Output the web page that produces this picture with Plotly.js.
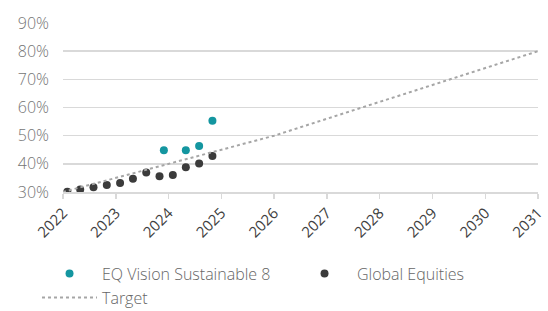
<!DOCTYPE html>
<html>
<head>
<meta charset="utf-8">
<script src="https://cdn.plot.ly/plotly-3.0.1.min.js"></script>
<style>html,body{margin:0;padding:0;background:#fff}#chart{width:548px;height:311px}</style>
</head>
<body>
<div id="chart"></div>
<script>
// Data
var eqDates = ["2023-11-30", "2024-04-30", "2024-07-31", "2024-10-31"];
var eqValues = [0.448, 0.448, 0.463, 0.553];

var globalDates = ["2022-01-31", "2022-04-30", "2022-07-31", "2022-10-31",
                   "2023-01-31", "2023-04-30", "2023-07-31", "2023-10-31",
                   "2024-01-31", "2024-04-30", "2024-07-31", "2024-10-31"];
var globalValues = [0.301, 0.309, 0.317, 0.325, 0.332, 0.347, 0.369, 0.356, 0.360, 0.388, 0.401, 0.428];

var targetDates = ["2022-01-01", "2023-01-01", "2024-01-01", "2025-01-01", "2026-01-01",
                   "2027-01-01", "2028-01-01", "2029-01-01", "2030-01-01", "2031-01-01"];
var targetValues = [0.30, 0.35, 0.40, 0.45, 0.50, 0.56, 0.62, 0.68, 0.74, 0.80];

var yearTicks = ["2022-01-01","2023-01-01","2024-01-01","2025-01-01","2026-01-01",
                 "2027-01-01","2028-01-01","2029-01-01","2030-01-01","2031-01-01"];
var yearLabels = ["2022","2023","2024","2025","2026","2027","2028","2029","2030","2031"];

var FONT = "'Open Sans', Lato, sans-serif";

var traces = [
  {x: eqDates, y: eqValues, name: "EQ Vision Sustainable 8", type: "scatter", mode: "markers",
   marker: {color: "#1496a0", size: 8}},
  {x: globalDates, y: globalValues, name: "Global Equities", type: "scatter", mode: "markers",
   marker: {color: "#3b3b3b", size: 8}},
  {x: targetDates, y: targetValues, name: "Target", type: "scatter", mode: "lines",
   line: {color: "#a6a6a6", width: 2, dash: "dot"}}
];

var layout = {
  width: 548, height: 311,
  margin: {l: 63, r: 9.5, t: 23.3, b: 118.7, autoexpand: false},
  paper_bgcolor: "#fff", plot_bgcolor: "#fff",
  font: {family: FONT, color: "#666666", size: 16, weight: 300},
  showlegend: true,
  xaxis: {
    type: "date",
    range: ["2022-01-01", "2031-01-01"],
    tickvals: yearTicks, ticktext: yearLabels,
    tickangle: -45,
    automargin: false,
    showgrid: false, zeroline: false,
    showline: true, linecolor: "#d9d9d9", linewidth: 1.5,
    ticks: "outside", ticklen: 5, tickcolor: "#d9d9d9", tickwidth: 1.5,
    tickfont: {family: FONT, color: "#404040", size: 15, weight: 400}
  },
  yaxis: {
    range: [0.3, 0.9],
    tickvals: [0.3, 0.4, 0.5, 0.6, 0.7, 0.8, 0.9],
    tickformat: ".0%",
    automargin: false,
    showgrid: true, gridcolor: "#d9d9d9", gridwidth: 1.5,
    zeroline: false, showline: false, ticks: "",
    ticklabelstandoff: 13,
    tickfont: {family: FONT, color: "#757575", size: 16, weight: 300}
  },
  legend: {
    orientation: "h",
    xref: "paper", yref: "paper",
    x: (37 - 63) / 475.5, xanchor: "left",
    y: -(257 - 192.3) / 169, yanchor: "top",
    font: {family: FONT, color: "#666666", size: 16, weight: 300},
    itemwidth: 55,
    entrywidth: 185,
    bgcolor: "rgba(0,0,0,0)"
  }
};

Plotly.newPlot("chart", traces, layout, {displayModeBar: false, staticPlot: true});
</script>
</body>
</html>
